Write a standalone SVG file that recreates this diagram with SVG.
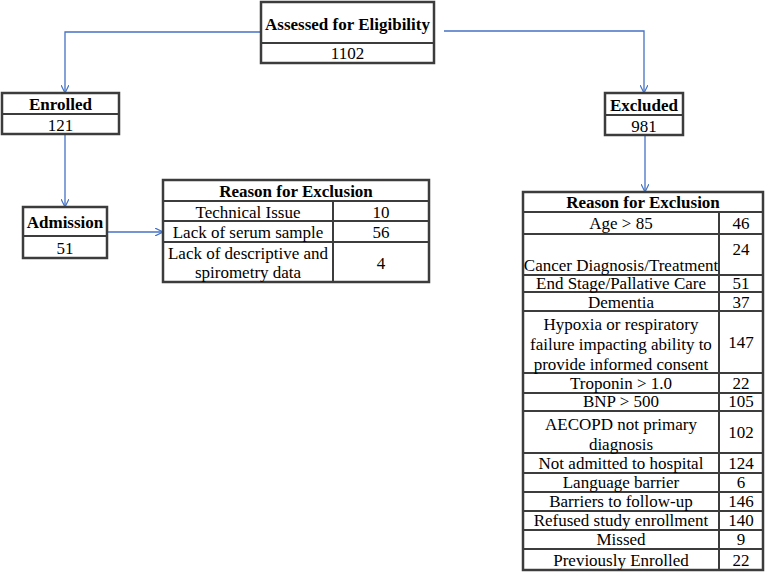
<svg xmlns="http://www.w3.org/2000/svg" width="767" height="577" viewBox="0 0 767 577">
<style>
.b{fill:#fff;stroke:#3c3c3c;stroke-width:2.5}
.l{stroke:#3c3c3c;stroke-width:2;fill:none}
.h{font-family:"Liberation Serif","Times New Roman",serif;font-weight:bold;font-size:17px;fill:#000;text-anchor:middle}
.t{font-family:"Liberation Serif","Times New Roman",serif;font-size:17px;fill:#000;text-anchor:middle}
.c{stroke:#4472C4;stroke-width:1.3;fill:none}
</style>
<defs>
<marker id="a" viewBox="0 0 10 10" refX="10" refY="5" markerWidth="8" markerHeight="8" markerUnits="userSpaceOnUse" orient="auto">
<path d="M0,0 L10,5 L0,10" fill="none" stroke="#4472C4" stroke-width="1.5"/>
</marker>
</defs>
<g id="connectors">
<path class="c" d="M261,32 H65 V93" marker-end="url(#a)"/>
<path class="c" d="M444,31 H644 V93" marker-end="url(#a)"/>
<path class="c" d="M65,134 V207" marker-end="url(#a)"/>
<path class="c" d="M107,232 H163" marker-end="url(#a)"/>
<path class="c" d="M645,135 V192" marker-end="url(#a)"/>
</g>
<g id="assessed">
<rect class="b" x="261" y="2" width="173" height="61"/>
<line class="l" x1="261" y1="43" x2="434" y2="43"/>
<text class="h" x="347.5" y="30" font-size="17.5">Assessed for Eligibility</text>
<text class="t" x="347.5" y="59">1102</text>
</g>
<g id="enrolled">
<rect class="b" x="2" y="93" width="117" height="41"/>
<line class="l" x1="2" y1="114" x2="119" y2="114"/>
<text class="h" x="60.5" y="110">Enrolled</text>
<text class="t" x="60.5" y="131">121</text>
</g>
<g id="excluded">
<rect class="b" x="605" y="93" width="78" height="42"/>
<line class="l" x1="605" y1="115" x2="683" y2="115"/>
<text class="h" x="644" y="111">Excluded</text>
<text class="t" x="644" y="132">981</text>
</g>
<g id="admission">
<rect class="b" x="23" y="207" width="84" height="51"/>
<line class="l" x1="23" y1="236" x2="107" y2="236"/>
<text class="h" x="65" y="228">Admission</text>
<text class="t" x="65" y="254">51</text>
</g>
<g id="admission-exclusion">
<rect class="b" x="163" y="180" width="266" height="102"/>
<line class="l" x1="163" y1="201" x2="429" y2="201"/>
<line class="l" x1="163" y1="221" x2="429" y2="221"/>
<line class="l" x1="163" y1="242" x2="429" y2="242"/>
<line class="l" x1="333" y1="201" x2="333" y2="282"/>
<text class="h" x="296" y="197">Reason for Exclusion</text>
<text class="t" x="248" y="218">Technical Issue</text>
<text class="t" x="381" y="218">10</text>
<text class="t" x="248" y="238">Lack of serum sample</text>
<text class="t" x="381" y="238">56</text>
<text class="t" x="248" y="259">Lack of descriptive and</text>
<text class="t" x="248" y="278">spirometry data</text>
<text class="t" x="381" y="269">4</text>
</g>
<g id="excluded-reasons">
<rect class="b" x="523" y="192" width="240" height="378"/>
<g class="l">
<line x1="523" y1="212" x2="763" y2="212"/>
<line x1="523" y1="234" x2="763" y2="234"/>
<line x1="523" y1="275" x2="763" y2="275"/>
<line x1="523" y1="292" x2="763" y2="292"/>
<line x1="523" y1="311" x2="763" y2="311"/>
<line x1="523" y1="373" x2="763" y2="373"/>
<line x1="523" y1="393" x2="763" y2="393"/>
<line x1="523" y1="411" x2="763" y2="411"/>
<line x1="523" y1="453" x2="763" y2="453"/>
<line x1="523" y1="473" x2="763" y2="473"/>
<line x1="523" y1="492" x2="763" y2="492"/>
<line x1="523" y1="511" x2="763" y2="511"/>
<line x1="523" y1="530" x2="763" y2="530"/>
<line x1="523" y1="549" x2="763" y2="549"/>
<line x1="719" y1="212" x2="719" y2="570"/>
</g>
<text class="h" x="643" y="208">Reason for Exclusion</text>
<text class="t" x="621" y="229">Age &gt; 85</text><text class="t" x="741" y="229">46</text>
<text class="t" x="621" y="271">Cancer Diagnosis/Treatment</text><text class="t" x="741" y="255">24</text>
<text class="t" x="621" y="289">End Stage/Pallative  Care</text><text class="t" x="741" y="289">51</text>
<text class="t" x="621" y="308">Dementia</text><text class="t" x="741" y="308">37</text>
<text class="t" x="621" y="330">Hypoxia or respiratory</text>
<text class="t" x="621" y="350">failure impacting ability to</text>
<text class="t" x="621" y="370">provide informed consent</text><text class="t" x="741" y="348">147</text>
<text class="t" x="621" y="389">Troponin &gt; 1.0</text><text class="t" x="741" y="389">22</text>
<text class="t" x="621" y="407">BNP &gt; 500</text><text class="t" x="741" y="407">105</text>
<text class="t" x="621" y="430">AECOPD not primary</text>
<text class="t" x="621" y="450">diagnosis</text><text class="t" x="741" y="438">102</text>
<text class="t" x="621" y="469">Not admitted to hospital</text><text class="t" x="741" y="469">124</text>
<text class="t" x="621" y="488">Language  barrier</text><text class="t" x="741" y="488">6</text>
<text class="t" x="621" y="507">Barriers  to follow-up</text><text class="t" x="741" y="507">146</text>
<text class="t" x="621" y="526">Refused study enrollment</text><text class="t" x="741" y="526">140</text>
<text class="t" x="621" y="545">Missed</text><text class="t" x="741" y="545">9</text>
<text class="t" x="621" y="566">Previously Enrolled</text><text class="t" x="741" y="566">22</text>
</g>
</svg>
